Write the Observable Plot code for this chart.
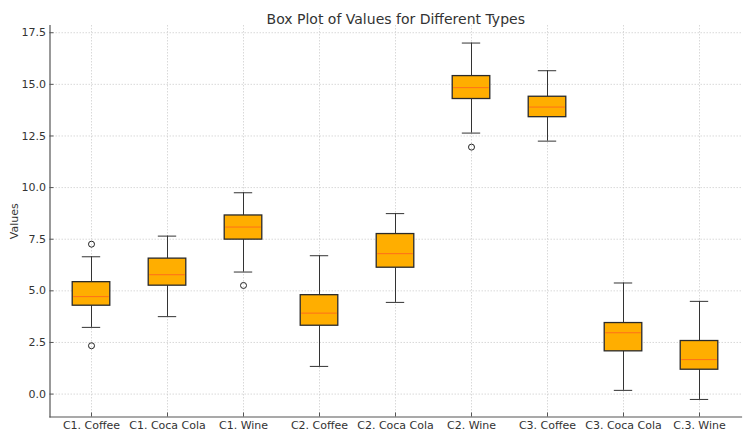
<!DOCTYPE html>
<html>
<head>
<meta charset="utf-8">
<script src="https://cdn.jsdelivr.net/npm/d3@7"></script>
<script src="https://cdn.jsdelivr.net/npm/@observablehq/plot@0.6"></script>
<style>
  body { margin: 0; background: #fff; }
  svg { font-family: "DejaVu Sans", sans-serif; }
</style>
</head>
<body>
<div id="chart"></div>
<script>
const categories = ["C1. Coffee", "C1. Coca Cola", "C1. Wine", "C2. Coffee", "C2. Coca Cola", "C2. Wine", "C3. Coffee", "C3. Coca Cola", "C.3. Wine"];
const whiskerLow  = [3.23, 3.75, 5.91, 1.34, 4.44, 12.64, 12.25, 0.18, -0.26];
const q1          = [4.28, 5.25, 7.48, 3.31, 6.12, 14.29, 13.41, 2.07, 1.18];
const median      = [4.72, 5.78, 8.09, 3.92, 6.80, 14.84, 13.90, 2.97, 1.67];
const q3          = [5.42, 6.56, 8.65, 4.79, 7.75, 15.40, 14.40, 3.44, 2.57];
const whiskerHigh = [6.65, 7.65, 9.75, 6.70, 8.74, 17.00, 15.66, 5.38, 4.49];
const outlierCategories = ["C1. Coffee", "C1. Coffee", "C1. Wine", "C2. Wine"];
const outlierValues = [7.26, 2.34, 5.26, 11.96];
const yTicks = [0, 2.5, 5, 7.5, 10, 12.5, 15, 17.5];
const title = "Box Plot of Values for Different Types";

const stats = categories.map((c, i) => ({
  cat: c, lo: whiskerLow[i], q1: q1[i], med: median[i], q3: q3[i], hi: whiskerHigh[i]
}));
const outliers = outlierCategories.map((c, i) => ({cat: c, v: outlierValues[i]}));

const W = 753, H = 442;
const mL = 49.5, mR = 12, mT = 25, mB = 25.5;
const band = (W - mL - mR) / categories.length;
const yMin = -1.11, yMax = 17.85;

const chart = Plot.plot({
  width: W, height: H,
  marginLeft: mL, marginRight: mR, marginTop: mT, marginBottom: mB,
  style: {fontSize: "11px", color: "#333", fontFamily: "DejaVu Sans, sans-serif", background: "#fff"},
  x: {type: "band", domain: categories, padding: 0},
  y: {domain: [yMin, yMax]},
  marks: [
    Plot.gridY(yTicks, {stroke: "#c8c8c8", strokeOpacity: 1, strokeDasharray: "1.5,1.5", strokeWidth: 0.7}),
    Plot.gridX(categories, {stroke: "#c8c8c8", strokeOpacity: 1, strokeDasharray: "1.5,1.5", strokeWidth: 0.7}),
    Plot.ruleX(stats, {x: "cat", y1: "lo", y2: "q1", stroke: "#333", strokeWidth: 1}),
    Plot.ruleX(stats, {x: "cat", y1: "q3", y2: "hi", stroke: "#333", strokeWidth: 1}),
    Plot.tickY(stats, {x: "cat", y: "lo", stroke: "#333", strokeWidth: 1, insetLeft: band * 0.375, insetRight: band * 0.375}),
    Plot.tickY(stats, {x: "cat", y: "hi", stroke: "#333", strokeWidth: 1, insetLeft: band * 0.375, insetRight: band * 0.375}),
    Plot.barY(stats, {x: "cat", y1: "q1", y2: "q3", fill: "#ffae00", stroke: "#2a2a2a", strokeWidth: 1.3, insetLeft: band * 0.25, insetRight: band * 0.25}),
    Plot.tickY(stats, {x: "cat", y: "med", stroke: "#ff6f1a", strokeWidth: 1, insetLeft: band * 0.25 + 1, insetRight: band * 0.25 + 1}),
    Plot.dot(outliers, {x: "cat", y: "v", r: 3, stroke: "#222", fill: "none", strokeWidth: 1}),
    Plot.axisY({ticks: yTicks, tickFormat: d3.format(".1f"), tickSize: -4, tickPadding: 8, stroke: "#555", fill: "#333", label: "Values", labelAnchor: "center", labelArrow: "none", labelOffset: 40}),
    Plot.axisX({tickSize: -4, tickPadding: 8, stroke: "#555", fill: "#333", label: null}),
    Plot.frame({anchor: "left", stroke: "#555", strokeWidth: 1.2}),
    Plot.frame({anchor: "bottom", stroke: "#555", strokeWidth: 1.2}),
    Plot.text([title], {frameAnchor: "top", dy: -11, fontSize: 14, fill: "#333"})
  ]
});
document.getElementById("chart").appendChild(chart);
</script>
</body>
</html>
